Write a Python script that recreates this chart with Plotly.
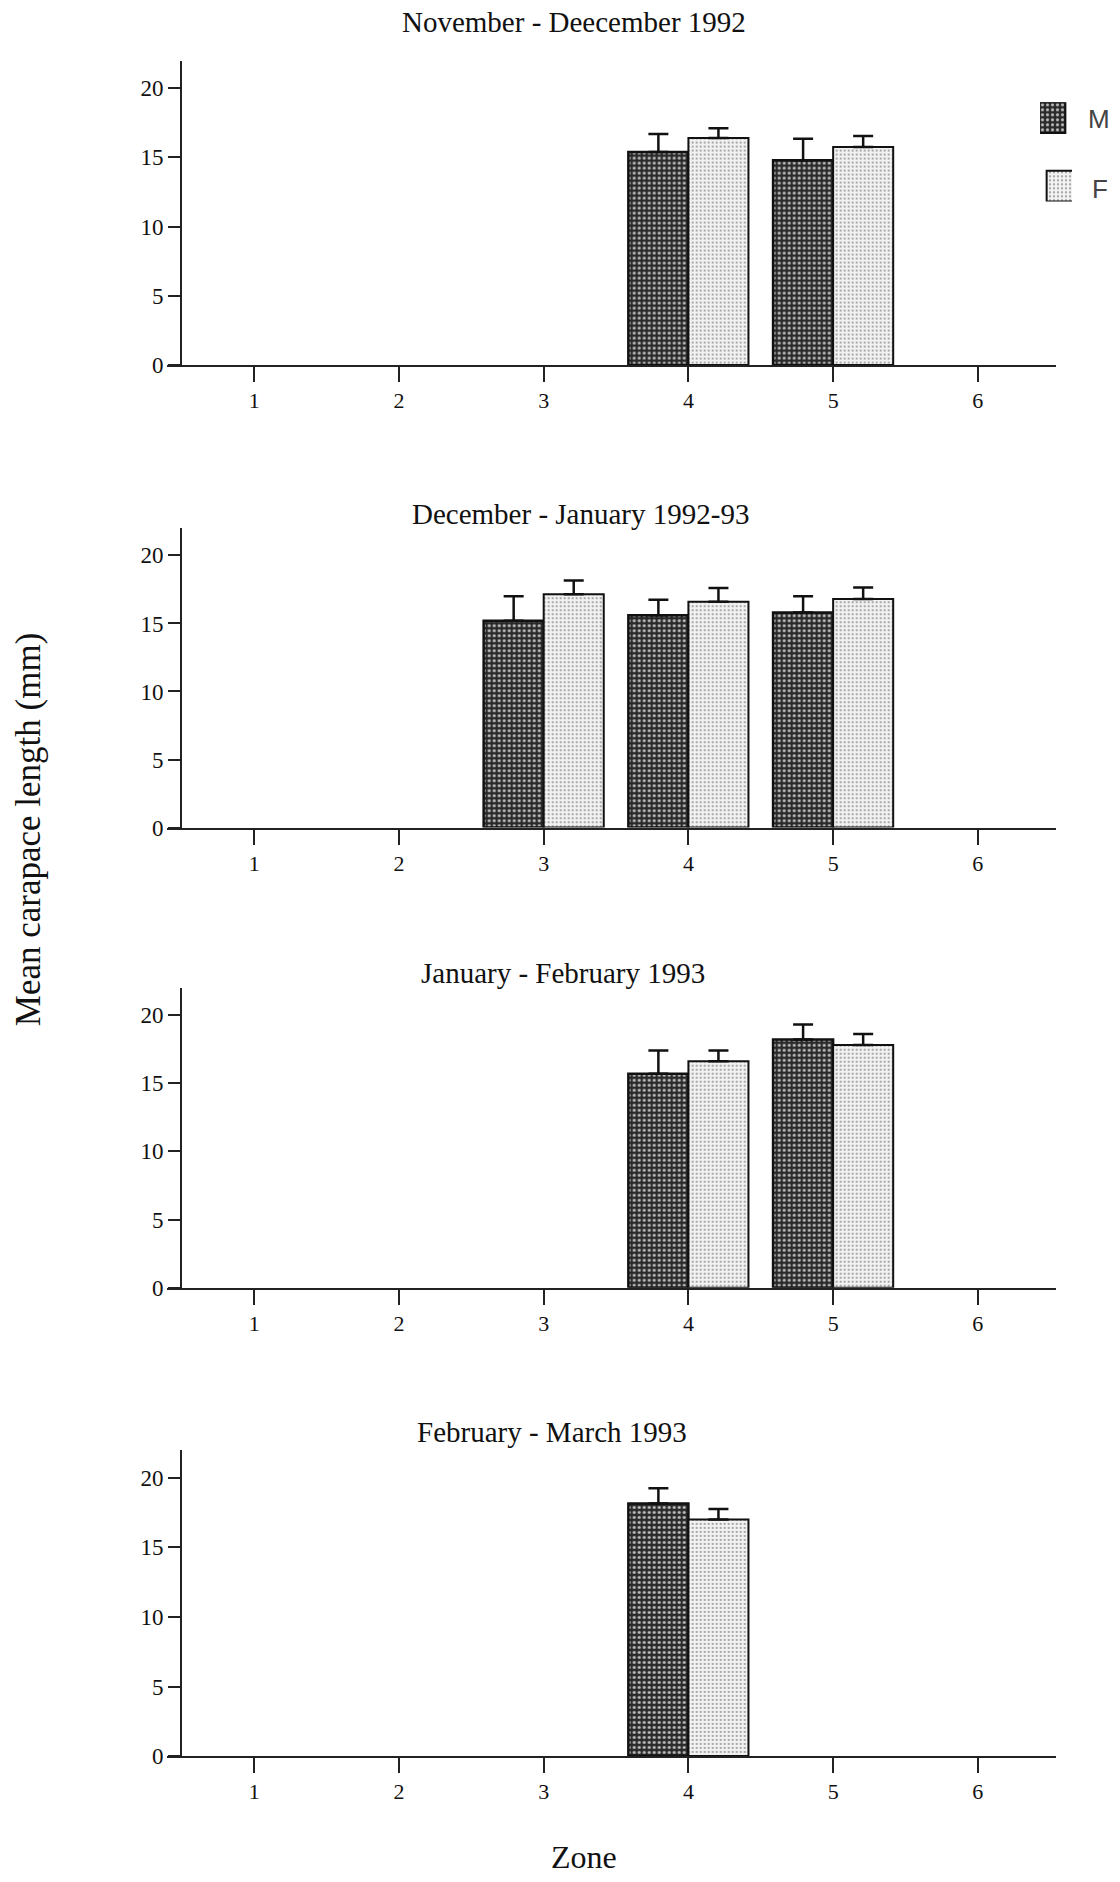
import plotly.graph_objects as go

W, H = 1120, 1882

zones = [1, 2, 3, 4, 5, 6]
tick_labels = ["1", "2", "3", "4", "5", "6"]
y_ticks = [0, 5, 10, 15, 20]

titles = [
    "November - Deecember 1992",
    "December - January 1992-93",
    "January - February 1993",
    "February - March 1993",
]

# Panel 1
p1_m = [None, None, None, 15.4, 14.8, None]
p1_m_err = [None, None, None, 1.3, 1.55, None]
p1_f = [None, None, None, 16.4, 15.75, None]
p1_f_err = [None, None, None, 0.7, 0.8, None]
# Panel 2
p2_m = [None, None, 15.2, 15.6, 15.8, None]
p2_m_err = [None, None, 1.8, 1.15, 1.2, None]
p2_f = [None, None, 17.15, 16.6, 16.8, None]
p2_f_err = [None, None, 1.0, 1.0, 0.85, None]
# Panel 3
p3_m = [None, None, None, 15.7, 18.2, None]
p3_m_err = [None, None, None, 1.7, 1.1, None]
p3_f = [None, None, None, 16.6, 17.8, None]
p3_f_err = [None, None, None, 0.8, 0.8, None]
# Panel 4
p4_m = [None, None, None, 18.15, None, None]
p4_m_err = [None, None, None, 1.1, None, None]
p4_f = [None, None, None, 17.0, None, None]
p4_f_err = [None, None, None, 0.75, None, None]

panels = [
    (p1_m, p1_m_err, p1_f, p1_f_err),
    (p2_m, p2_m_err, p2_f, p2_f_err),
    (p3_m, p3_m_err, p3_f, p3_f_err),
    (p4_m, p4_m_err, p4_f, p4_f_err),
]

# pixel geometry (top, bottom of plot area)
panel_px = [(61, 367.5), (531.9, 833.3), (994.6, 1296.7), (1460, 1768.3)]
title_px = [(574, 22), (580, 518), (563, 980), (552, 1442)]
x_left_px, x_right_px, y_axis_px = 166.7, 1056, 181

SERIF = "Liberation Serif"
M_PATTERN = dict(shape=".", bgcolor="#2a2a2a", fgcolor="#bdbdbd", size=5, solidity=0.3, fillmode="replace")
F_PATTERN = dict(shape=".", bgcolor="#f2f2f2", fgcolor="#8a8a8a", size=4, solidity=0.18, fillmode="replace")

fig = go.Figure()
layout = {}

for i, (m, me, f, fe) in enumerate(panels):
    n = "" if i == 0 else str(i + 1)
    xa, ya = "x" + n, "y" + n
    fig.add_trace(go.Bar(
        x=zones, y=m, name="M", xaxis=xa, yaxis=ya, showlegend=False,
        marker=dict(color="#2a2a2a", pattern=M_PATTERN, line=dict(color="#111", width=2.5)),
        error_y=dict(type="data", array=me, arrayminus=[0] * 6, symmetric=False,
                     color="#111", thickness=2.5, width=10),
    ))
    fig.add_trace(go.Bar(
        x=zones, y=f, name="F", xaxis=xa, yaxis=ya, showlegend=False,
        marker=dict(color="#f2f2f2", pattern=F_PATTERN, line=dict(color="#111", width=2)),
        error_y=dict(type="data", array=fe, arrayminus=[0] * 6, symmetric=False,
                     color="#111", thickness=2.5, width=10),
    ))
    top, bot = panel_px[i]
    ydom = [1 - bot / H, 1 - top / H]
    layout["xaxis" + n] = dict(
        domain=[x_left_px / W, x_right_px / W], range=[0.395, 6.54],
        anchor=ya, tickmode="array", tickvals=zones, ticktext=tick_labels,
        showline=True, linecolor="#222", linewidth=2, ticks="outside", ticklen=15,
        tickwidth=2, tickcolor="#222", showgrid=False, zeroline=False,
        tickfont=dict(family=SERIF, size=22, color="#111"), fixedrange=True,
    )
    layout["yaxis" + n] = dict(
        domain=ydom, range=[0, 22], anchor="free", position=y_axis_px / W,
        tickmode="array", tickvals=y_ticks, ticktext=[str(v) for v in y_ticks],
        showline=True, linecolor="#222", linewidth=2, ticks="outside", ticklen=12,
        tickwidth=2, tickcolor="#222", showgrid=False, zeroline=False,
        tickfont=dict(family=SERIF, size=23, color="#111"), fixedrange=True,
    )

# legend as a small axis with two swatches
leg_top, leg_bot = 103, 203
layout["xaxis5"] = dict(domain=[1040 / W, 1072 / W], range=[-0.5, 0.5], visible=False, anchor="y5")
layout["yaxis5"] = dict(domain=[1 - leg_bot / H, 1 - leg_top / H], range=[0, 100], visible=False, anchor="x5")
legend_names = ["M", "F"]
legend_heights = [31, 31]
legend_bases = [69, 0]
fig.add_trace(go.Bar(x=[0], y=[legend_heights[0]], base=[legend_bases[0]], width=[1], xaxis="x5", yaxis="y5",
                     showlegend=False, hoverinfo="skip",
                     marker=dict(color="#2a2a2a", pattern=M_PATTERN, line=dict(color="#111", width=2))))
fig.add_trace(go.Bar(x=[0], y=[legend_heights[1]], base=[legend_bases[1]], width=[1], xaxis="x5", yaxis="y5",
                     showlegend=False, hoverinfo="skip",
                     marker=dict(color="#f2f2f2", pattern=F_PATTERN, line=dict(color="#111", width=2))))

annotations = []
for t, (cx, cy) in zip(titles, title_px):
    annotations.append(dict(text=t, x=cx / W, y=1 - cy / H, xref="paper", yref="paper",
                            xanchor="center", yanchor="middle", showarrow=False,
                            font=dict(family=SERIF, size=29, color="#111")))
annotations.append(dict(text=legend_names[0], x=1099 / W, y=1 - 120 / H, xref="paper", yref="paper",
                        xanchor="center", yanchor="middle", showarrow=False,
                        font=dict(family="Liberation Sans", size=26, color="#444")))
annotations.append(dict(text=legend_names[1], x=1100 / W, y=1 - 190 / H, xref="paper", yref="paper",
                        xanchor="center", yanchor="middle", showarrow=False,
                        font=dict(family="Liberation Sans", size=26, color="#444")))
annotations.append(dict(text="Mean carapace length (mm)", x=28 / W, y=1 - 835 / H, xref="paper", yref="paper",
                        xanchor="center", yanchor="middle", showarrow=False, textangle=-90,
                        font=dict(family=SERIF, size=35, color="#111")))
annotations.append(dict(text="Zone", x=584 / W, y=1 - 1870 / H, xref="paper", yref="paper",
                        xanchor="center", yanchor="middle", showarrow=False,
                        font=dict(family=SERIF, size=32, color="#111")))

fig.update_layout(
    width=W, height=H, margin=dict(l=0, r=0, t=0, b=0),
    paper_bgcolor="white", plot_bgcolor="rgba(0,0,0,0)",
    barmode="group", bargap=0.17, bargroupgap=0,
    showlegend=False, annotations=annotations, **layout,
)

fig.write_html("out.html")
